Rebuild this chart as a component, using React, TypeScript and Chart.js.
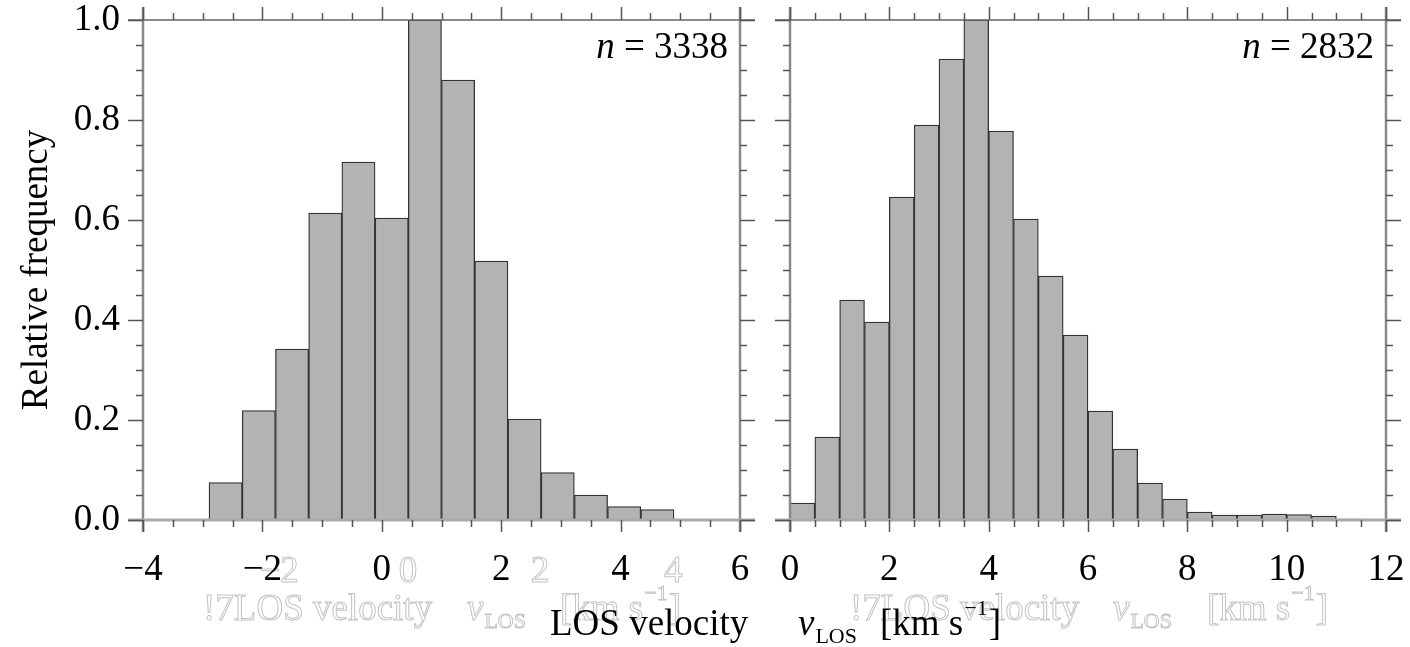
import React, { useEffect, useRef } from 'react';
import { Chart, registerables } from 'chart.js';

Chart.register(...registerables);

// ---------------- data ----------------
const leftBinCenters = [-2.616, -2.06, -1.503, -0.947, -0.391, 0.166, 0.722, 1.278, 1.835, 2.391, 2.947, 3.504, 4.06, 4.616];
const leftFrequency = [0.075, 0.219, 0.342, 0.614, 0.716, 0.604, 1.0, 0.88, 0.518, 0.202, 0.095, 0.05, 0.027, 0.021];

const rightBinCenters = [0.25, 0.75, 1.25, 1.75, 2.25, 2.75, 3.25, 3.75, 4.25, 4.75, 5.25, 5.75, 6.25, 6.75, 7.25, 7.75, 8.25, 8.75, 9.25, 9.75, 10.25, 10.75, 11.25];
const rightFrequency = [0.034, 0.166, 0.44, 0.396, 0.646, 0.79, 0.922, 1.0, 0.778, 0.602, 0.488, 0.37, 0.218, 0.142, 0.074, 0.042, 0.016, 0.01, 0.01, 0.012, 0.011, 0.008, 0.002];

const leftXTicks = [-4, -2, 0, 2, 4, 6];
const rightXTicks = [0, 2, 4, 6, 8, 10, 12];
const yTicks = [0, 0.2, 0.4, 0.6, 0.8, 1.0];

const leftCountLabel = '3338';
const rightCountLabel = '2832';
const yTitle = 'Relative frequency';

// faint "ghost" labels visible in the original picture
const ghostTickValues = [-1.72, 0.44, 2.65, 4.88];
const ghostTickLabels = ['\u22122', '0', '2', '4'];

// ---------------- style ----------------
const W = 1410;
const H = 647;
const FAMILY = "'Liberation Serif', 'Times New Roman', Times, serif";
const F = (size: number, style = '') => `${style} ${size}px ${FAMILY}`.trim();
const BIG = 37;
const SMALL = 22;

type Piece = { text: string; font: string; dy?: number; gapAfter?: number };
type Group = { x: number; y: number; pieces: Piece[] };

function drawGroups(ctx: CanvasRenderingContext2D, groups: Group[], ghost: boolean) {
  ctx.save();
  ctx.textAlign = 'left';
  ctx.textBaseline = 'alphabetic';
  for (const g of groups) {
    let cx = g.x;
    for (const p of g.pieces) {
      ctx.font = p.font;
      const y = g.y + (p.dy || 0);
      if (ghost) {
        ctx.fillStyle = '#ffffff';
        ctx.fillText(p.text, cx, y);
        ctx.strokeStyle = '#c4c4c4';
        ctx.lineWidth = 1;
        ctx.strokeText(p.text, cx, y);
      } else {
        ctx.fillStyle = '#000000';
        ctx.fillText(p.text, cx, y);
      }
      cx += ctx.measureText(p.text).width + (p.gapAfter || 0);
    }
  }
  ctx.restore();
}

function titleGroups(x1: number, x2: number, x3: number, y: number, prefix: string): Group[] {
  return [
    { x: x1, y, pieces: [{ text: prefix + 'LOS velocity', font: F(BIG) }] },
    {
      x: x2,
      y,
      pieces: [
        { text: 'v', font: F(BIG, 'italic'), gapAfter: 1 },
        { text: 'LOS', font: F(SMALL), dy: 8 },
      ],
    },
    {
      x: x3,
      y,
      pieces: [
        { text: '[km s', font: F(BIG), gapAfter: 1 },
        { text: '\u22121', font: F(SMALL), dy: -20, gapAfter: 1 },
        { text: ']', font: F(BIG) },
      ],
    },
  ];
}

function framePlugin(countLabel: string, ghostText: Group[] | null, ghostTicks: boolean, mainTitle: Group[] | null) {
  return {
    id: 'frame_' + countLabel,
    beforeDraw(chart: any) {
      const ctx: CanvasRenderingContext2D = chart.ctx;
      if (ghostText) drawGroups(ctx, ghostText, true);
      if (ghostTicks) {
        const xs = chart.scales.x;
        ctx.save();
        ctx.font = F(BIG);
        ctx.textAlign = 'center';
        ctx.textBaseline = 'alphabetic';
        ctx.fillStyle = '#ffffff';
        ctx.strokeStyle = '#c4c4c4';
        ctx.lineWidth = 1;
        ghostTickValues.forEach((v, i) => {
          const px = xs.getPixelForValue(v);
          ctx.fillText(ghostTickLabels[i], px, 582);
          ctx.strokeText(ghostTickLabels[i], px, 582);
        });
        ctx.restore();
      }
    },
    afterDatasetsDraw(chart: any) {
      const ctx: CanvasRenderingContext2D = chart.ctx;
      const { left, right, top, bottom } = chart.chartArea;
      const xs = chart.scales.x;
      const ys = chart.scales.y;
      ctx.save();
      // axis lines
      ctx.strokeStyle = '#8a8a8a';
      ctx.lineWidth = 2.5;
      ctx.beginPath();
      ctx.moveTo(left, top - 13);
      ctx.lineTo(left, bottom + 12);
      ctx.moveTo(right, top - 13);
      ctx.lineTo(right, bottom + 12);
      ctx.stroke();
      ctx.strokeStyle = '#aaaaaa';
      ctx.lineWidth = 3;
      ctx.beginPath();
      ctx.moveTo(left - 15, bottom);
      ctx.lineTo(right + 15, bottom);
      ctx.stroke();
      ctx.strokeStyle = '#666666';
      ctx.lineWidth = 1.5;
      ctx.beginPath();
      ctx.moveTo(left - 15, top);
      ctx.lineTo(right + 15, top);
      ctx.stroke();
      // ticks
      ctx.strokeStyle = '#555555';
      ctx.lineWidth = 1.5;
      ctx.beginPath();
      const nx = Math.round((xs.max - xs.min) / 0.5);
      for (let k = 0; k <= nx; k++) {
        const v = xs.min + k * 0.5;
        const px = Math.round(xs.getPixelForValue(v)) + 0.5;
        const major = k % 4 === 0;
        ctx.moveTo(px, top);
        ctx.lineTo(px, top - (major ? 13 : 7));
        ctx.moveTo(px, bottom);
        ctx.lineTo(px, bottom + (major ? 12 : 7));
      }
      for (let k = 0; k <= 20; k++) {
        const v = k * 0.05;
        const py = Math.round(ys.getPixelForValue(v)) + 0.5;
        const major = k % 4 === 0;
        ctx.moveTo(left, py);
        ctx.lineTo(left - (major ? 15 : 7), py);
        ctx.moveTo(right, py);
        ctx.lineTo(right + (major ? 15 : 7), py);
      }
      ctx.stroke();
      ctx.restore();
    },
    afterDraw(chart: any) {
      const ctx: CanvasRenderingContext2D = chart.ctx;
      const { right, top } = chart.chartArea;
      ctx.save();
      ctx.textBaseline = 'alphabetic';
      ctx.textAlign = 'left';
      ctx.fillStyle = '#000';
      ctx.font = F(BIG);
      const rest = ' = ' + countLabel;
      const wRest = ctx.measureText(rest).width;
      ctx.font = F(BIG, 'italic');
      const wN = ctx.measureText('n').width;
      const x0 = right - 12 - wRest - wN;
      const y0 = top + 38;
      ctx.fillText('n', x0, y0);
      ctx.font = F(BIG);
      ctx.fillText(rest, x0 + wN, y0);
      ctx.restore();
      if (mainTitle) drawGroups(ctx, mainTitle, false);
    },
  };
}

const fixedX = (h: number) => (scale: any) => {
  scale.height = h;
  scale.paddingLeft = 0;
  scale.paddingRight = 0;
};
const fixedY = (w: number) => (scale: any) => {
  scale.width = w;
  scale.paddingTop = 0;
  scale.paddingBottom = 0;
};

const minusFmt = (v: any) => {
  const n = Number(v);
  return n < 0 ? '\u2212' + String(-n) : String(n);
};

function makeConfig(
  centers: number[],
  freq: number[],
  xTicks: number[],
  padLeft: number,
  padRight: number,
  showY: boolean,
  plugin: any
): any {
  return {
    type: 'bar',
    data: {
      datasets: [
        {
          data: centers.map((x, i) => ({ x, y: freq[i] })),
          backgroundColor: '#b3b3b3',
          borderColor: '#333333',
          borderWidth: 1.3,
          barPercentage: 1,
          categoryPercentage: 1,
        },
      ],
    },
    options: {
      responsive: false,
      animation: false,
      events: [],
      layout: { padding: { left: padLeft, right: padRight, top: 20, bottom: 0 } },
      plugins: { legend: { display: false }, tooltip: { enabled: false }, title: { display: false } },
      scales: {
        x: {
          type: 'linear',
          offset: false,
          min: xTicks[0],
          max: xTicks[xTicks.length - 1],
          afterBuildTicks: (scale: any) => {
            scale.ticks = xTicks.map((v) => ({ value: v }));
          },
          afterFit: fixedX(127),
          grid: { display: false, drawTicks: false },
          border: { display: false },
          ticks: {
            autoSkip: false,
            maxRotation: 0,
            padding: 28,
            color: '#000',
            font: { family: FAMILY, size: BIG },
            callback: minusFmt,
          },
        },
        y: {
          type: 'linear',
          display: showY,
          min: 0,
          max: 1,
          afterBuildTicks: (scale: any) => {
            scale.ticks = yTicks.map((v) => ({ value: v }));
          },
          afterFit: fixedY(showY ? 143 : 0),
          grid: { display: false, drawTicks: false },
          border: { display: false },
          ticks: {
            padding: 23,
            color: '#000',
            font: { family: FAMILY, size: BIG },
            callback: (v: any) => Number(v).toFixed(1),
          },
          title: {
            display: showY,
            text: yTitle,
            color: '#000',
            font: { family: FAMILY, size: BIG },
            padding: { top: 15, bottom: 0 },
          },
        },
      },
    },
    plugins: [plugin],
  };
}

export default function App() {
  const ref1 = useRef<HTMLCanvasElement>(null);
  const ref2 = useRef<HTMLCanvasElement>(null);

  useEffect(() => {
    const ghostLeft = titleGroups(203, 467, 560, 620, '!7');
    const ghostRight = titleGroups(850, 1113, 1207, 620, '!7');
    const mainTitle = titleGroups(550, 798, 880, 635, '');

    const c1 = new Chart(
      ref1.current as HTMLCanvasElement,
      makeConfig(leftBinCenters, leftFrequency, leftXTicks, 0, W - 740, true, framePlugin(leftCountLabel, ghostLeft, true, null))
    );
    const c2 = new Chart(
      ref2.current as HTMLCanvasElement,
      makeConfig(rightBinCenters, rightFrequency, rightXTicks, 790, W - 1386, false, framePlugin(rightCountLabel, ghostRight, false, mainTitle))
    );
    return () => {
      c1.destroy();
      c2.destroy();
    };
  }, []);

  return (
    <div style={{ position: 'absolute', left: 0, top: 0, width: W, height: H, background: '#ffffff', overflow: 'hidden' }}>
      <canvas ref={ref1} width={W} height={H} style={{ position: 'absolute', left: 0, top: 0 }} />
      <canvas ref={ref2} width={W} height={H} style={{ position: 'absolute', left: 0, top: 0 }} />
    </div>
  );
}
